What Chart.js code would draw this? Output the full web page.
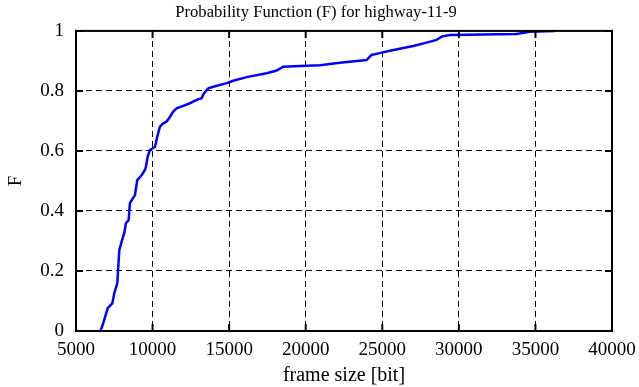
<!DOCTYPE html>
<html>
<head>
<meta charset="utf-8">
<script src="https://cdn.jsdelivr.net/npm/chart.js@4.4.1/dist/chart.umd.min.js"></script>
<style>
  html, body { margin: 0; padding: 0; background: #fff; }
  #wrap { width: 639px; height: 387px; }
</style>
</head>
<body>
<div id="wrap"><canvas id="cdf"></canvas></div>
<script>
// frame size [bit] and cumulative probability F
const frameSize = [6600, 6780, 7070, 7370, 7500, 7700, 7760, 7830, 7980, 8150,
  8260, 8440, 8520, 8650, 8850, 9000, 9290, 9500, 9570, 9680,
  9830, 10160, 10310, 10480, 10700, 10920, 11140, 11350, 11570, 12000,
  12440, 12880, 13200, 13350, 13640, 13960, 14840, 15270, 16140, 17450,
  18100, 18530, 19620, 20930, 22230, 23970, 24300, 24840, 25500, 27020,
  27890, 28540, 28870, 29410, 31590, 33760, 34630, 36270];
const probF = [0, 0.026, 0.076, 0.092, 0.126, 0.16, 0.214, 0.27, 0.298, 0.326,
  0.359, 0.37, 0.426, 0.437, 0.453, 0.503, 0.52, 0.537, 0.548, 0.581,
  0.603, 0.614, 0.648, 0.681, 0.692, 0.698, 0.714, 0.731, 0.742, 0.75,
  0.759, 0.77, 0.776, 0.792, 0.809, 0.814, 0.826, 0.834, 0.846, 0.859,
  0.868, 0.881, 0.883, 0.886, 0.894, 0.903, 0.92, 0.926, 0.934, 0.95,
  0.961, 0.97, 0.981, 0.986, 0.988, 0.99, 0.997, 1.0];

const xTicks = [5000, 10000, 15000, 20000, 25000, 30000, 35000, 40000];
const yTicks = [0, 0.2, 0.4, 0.6, 0.8, 1];

const serif = "'Liberation Serif', 'DejaVu Serif', serif";

// gnuplot style: box around the plot and ticks pointing inward on all four sides
const frameBox = {
  id: 'frameBox',
  afterDraw(chart) {
    const { ctx, chartArea: a, scales } = chart;
    ctx.save();
    ctx.strokeStyle = '#000';
    ctx.lineWidth = 2;
    ctx.strokeRect(a.left, a.top, a.right - a.left, a.bottom - a.top);
    const len = 7;
    ctx.beginPath();
    xTicks.forEach(v => {
      const px = scales.x.getPixelForValue(v);
      ctx.moveTo(px, a.bottom); ctx.lineTo(px, a.bottom - len);
      ctx.moveTo(px, a.top); ctx.lineTo(px, a.top + len);
    });
    yTicks.forEach(v => {
      const py = scales.y.getPixelForValue(v);
      ctx.moveTo(a.left, py); ctx.lineTo(a.left + len, py);
      ctx.moveTo(a.right, py); ctx.lineTo(a.right - len, py);
    });
    ctx.stroke();
    ctx.restore();
  }
};

new Chart(document.getElementById('cdf'), {
  type: 'scatter',
  data: {
    datasets: [{
      data: frameSize.map((x, i) => ({ x: x, y: probF[i] })),
      showLine: true,
      borderColor: '#0000ff',
      borderWidth: 2.5,
      pointRadius: 0,
      tension: 0
    }]
  },
  options: {
    responsive: true,
    maintainAspectRatio: false,
    animation: false,
    layout: { padding: { left: 5, right: 12, top: 0, bottom: 0 } },
    plugins: {
      legend: { display: false },
      tooltip: { enabled: false },
      title: {
        display: true,
        text: 'Probability Function (F) for highway-11-9',
        color: '#000',
        font: { family: serif, size: 16.6, weight: 'normal', lineHeight: 1.2 },
        padding: { top: 3, bottom: 8 }
      }
    },
    scales: {
      x: {
        type: 'linear',
        min: 5000,
        max: 40000,
        afterFit(scale) {
          scale.height = 56;
          scale.paddingRight = 27;
        },
        afterBuildTicks(scale) { scale.ticks = xTicks.map(v => ({ value: v })); },
        ticks: {
          color: '#000',
          padding: 8,
          font: { family: serif, size: 19 },
          callback: v => String(v)
        },
        grid: { color: '#000', lineWidth: 1, drawTicks: false },
        border: { display: false, dash: [6, 4] },
        title: {
          display: true,
          text: 'frame size [bit]',
          color: '#000',
          font: { family: serif, size: 20, lineHeight: 1 },
          padding: { top: 0, bottom: 1 }
        }
      },
      y: {
        min: 0,
        max: 1,
        afterFit(scale) { scale.width = 71; },
        afterBuildTicks(scale) { scale.ticks = yTicks.map(v => ({ value: v })); },
        ticks: {
          color: '#000',
          padding: 12,
          font: { family: serif, size: 19 },
          callback: v => String(v)
        },
        grid: { color: '#000', lineWidth: 1, drawTicks: false },
        border: { display: false, dash: [6, 4] },
        title: {
          display: true,
          text: 'F',
          color: '#000',
          font: { family: serif, size: 19, lineHeight: 1 },
          padding: { top: 2, bottom: 0 }
        }
      }
    }
  },
  plugins: [frameBox]
});
</script>
</body>
</html>
